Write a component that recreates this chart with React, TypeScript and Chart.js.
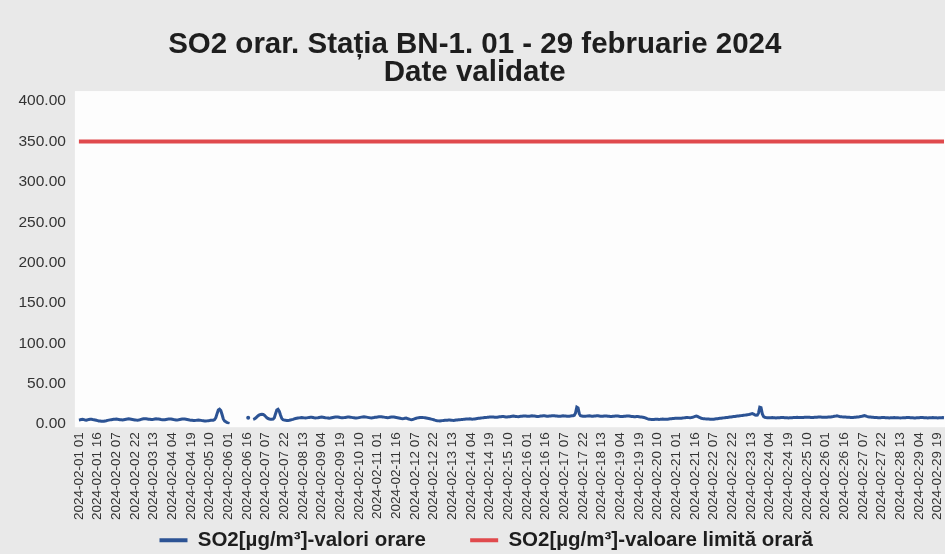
import React, { useEffect, useRef } from 'react';
import { Chart, registerables } from 'chart.js';

Chart.register(...registerables);

const FONT = "'Liberation Sans', Arial, Helvetica, sans-serif";

const TITLE_LINES = ['SO2 orar. Stația BN-1. 01 - 29 februarie 2024', 'Date validate'];
const SERIES_LABELS = ['SO2[µg/m³]-valori orare', 'SO2[µg/m³]-valoare limită orară'];
const YEAR_MONTH = '2024-02';
const DAY_NUMBERS = [1, 2, 3, 4, 5, 6, 7, 8, 9, 10, 11, 12, 13, 14, 15, 16, 17, 18, 19, 20, 21, 22, 23, 24, 25, 26, 27, 28, 29];
const HOUR_NUMBERS = [1, 2, 3, 4, 5, 6, 7, 8, 9, 10, 11, 12, 13, 14, 15, 16, 17, 18, 19, 20, 21, 22, 23, 24];
const TICK_EVERY_HOURS = 15;
const Y_MIN = 0;
const Y_MAX = 400;
const Y_STEP = 50;
const LIMIT_VALUE = 350;

// hourly SO2 values, one array per day (hours 01..24)
const so2Feb01 = [5.3, 5.5, 5.8, 6.0, 5.6, 5.2, 5.0, 5.4, 5.9, 6.2, 6.0, 5.7, 5.5, 5.2, 4.8, 4.4, 4.0, 3.8, 3.6, 3.5, 3.7, 4.0, 4.3, 4.7];
const so2Feb02 = [5.0, 5.3, 5.6, 5.8, 6.0, 6.2, 6.3, 6.1, 5.9, 5.6, 5.4, 5.2, 5.5, 5.8, 6.1, 6.4, 6.6, 6.5, 6.2, 5.9, 5.6, 5.3, 5.1, 5.0];
const so2Feb03 = [5.2, 5.5, 5.9, 6.3, 6.6, 6.8, 6.7, 6.5, 6.2, 6.0, 5.8, 5.9, 6.1, 6.4, 6.6, 6.5, 6.3, 6.0, 5.7, 5.5, 5.4, 5.6, 5.9, 6.2];
const so2Feb04 = [6.4, 6.5, 6.3, 6.0, 5.7, 5.5, 5.3, 5.2, 5.4, 5.7, 6.0, 6.3, 6.5, 6.4, 6.1, 5.8, 5.5, 5.2, 5.0, 4.8, 4.6, 4.5, 4.7, 5.0];
const so2Feb05 = [5.2, 5.0, 4.7, 4.4, 4.2, 4.0, 3.9, 4.1, 4.3, 4.5, 4.8, 5.0, 5.0, 5.6, 8.0, 13.0, 17.5, 18.5, 17.0, 12.0, 6.5, 4.0, 3.0, 2.0];
const so2Feb06 = [1.2, 0.8, null, null, null, null, null, null, null, null, null, null, null, null, null, null, 8.0, null, null, null, 6.0, 6.5, 7.5, 9.0];
const so2Feb07 = [10.5, 11.5, 12.0, 12.2, 12.0, 11.0, 9.5, 8.0, 7.0, 6.5, 6.2, 6.0, 6.2, 8.0, 13.0, 17.5, 18.5, 16.0, 11.0, 7.0, 5.5, 5.0, 4.8, 4.6];
const so2Feb08 = [4.6, 4.8, 5.2, 5.6, 6.0, 6.5, 7.0, 7.3, 7.6, 7.8, 8.0, 8.2, 8.0, 7.8, 7.6, 7.8, 8.1, 8.4, 8.6, 8.5, 8.2, 7.9, 7.7, 7.8];
const so2Feb09 = [8.0, 8.3, 8.6, 8.8, 8.6, 8.3, 8.0, 7.8, 7.6, 7.5, 7.7, 8.0, 8.3, 8.6, 8.9, 9.0, 8.8, 8.5, 8.2, 8.0, 7.9, 8.1, 8.4, 8.6];
const so2Feb10 = [8.8, 8.9, 8.7, 8.4, 8.1, 7.9, 7.7, 7.6, 7.8, 8.1, 8.4, 8.7, 9.0, 9.2, 9.0, 8.7, 8.4, 8.1, 7.9, 7.8, 8.0, 8.2, 8.5, 8.7];
const so2Feb11 = [8.9, 9.1, 9.3, 9.2, 9.0, 8.7, 8.4, 8.2, 8.0, 8.2, 8.5, 8.8, 9.0, 8.8, 8.5, 8.2, 7.9, 7.6, 7.3, 7.0, 6.8, 7.0, 7.3, 7.6];
const so2Feb12 = [7.0, 6.4, 5.9, 5.6, 5.8, 6.3, 6.9, 7.4, 7.8, 8.0, 8.2, 8.4, 8.3, 8.1, 7.9, 7.6, 7.3, 7.0, 6.7, 6.3, 5.9, 5.5, 5.0, 4.6];
const so2Feb13 = [4.3, 4.1, 4.0, 4.2, 4.4, 4.6, 4.8, 4.9, 5.0, 5.1, 5.2, 5.0, 4.8, 4.7, 4.9, 5.1, 5.3, 5.5, 5.6, 5.7, 5.9, 6.0, 6.2, 6.3];
const so2Feb14 = [6.4, 6.5, 6.6, 6.4, 6.2, 6.3, 6.5, 6.8, 7.0, 7.2, 7.4, 7.6, 7.8, 8.0, 8.2, 8.4, 8.5, 8.7, 8.8, 8.9, 9.0, 8.8, 8.6, 8.5];
const so2Feb15 = [8.7, 8.9, 9.1, 9.3, 9.5, 9.4, 9.2, 9.0, 8.9, 9.1, 9.3, 9.6, 9.8, 10.0, 9.8, 9.6, 9.4, 9.3, 9.5, 9.7, 9.9, 10.1, 10.2, 10.0];
const so2Feb16 = [9.8, 9.7, 9.9, 10.1, 10.3, 10.2, 10.0, 9.8, 9.6, 9.5, 9.7, 10.0, 10.2, 10.4, 10.3, 10.1, 9.9, 9.8, 10.0, 10.2, 10.4, 10.5, 10.3, 10.1];
const so2Feb17 = [10.0, 9.8, 9.7, 9.9, 10.1, 10.3, 10.2, 10.0, 9.8, 9.7, 9.9, 10.1, 10.3, 10.5, 11.0, 14.0, 21.0, 20.0, 13.0, 10.5, 10.0, 9.8, 9.7, 9.9];
const so2Feb18 = [10.0, 10.2, 10.3, 10.1, 9.9, 9.8, 10.0, 10.2, 10.4, 10.3, 10.1, 9.9, 9.7, 9.8, 10.0, 10.2, 10.1, 9.9, 9.8, 9.6, 9.5, 9.7, 9.9, 10.0];
const so2Feb19 = [10.1, 10.0, 9.8, 9.6, 9.4, 9.5, 9.7, 9.9, 10.1, 10.2, 10.0, 9.8, 9.6, 9.4, 9.2, 9.3, 9.5, 9.4, 9.2, 9.0, 8.8, 8.6, 8.3, 7.9];
const so2Feb20 = [7.2, 6.6, 6.2, 6.0, 5.9, 5.8, 5.9, 6.0, 6.1, 6.0, 5.9, 6.0, 6.2, 6.3, 6.2, 6.1, 6.0, 6.2, 6.4, 6.6, 6.8, 7.0, 7.1, 7.2];
const so2Feb21 = [7.3, 7.4, 7.3, 7.2, 7.4, 7.6, 7.8, 8.0, 8.2, 8.3, 8.1, 7.9, 8.1, 8.5, 9.0, 9.6, 10.0, 9.6, 8.8, 8.0, 7.4, 7.0, 6.8, 6.6];
const so2Feb22 = [6.5, 6.4, 6.3, 6.2, 6.1, 6.0, 6.2, 6.4, 6.6, 6.8, 7.0, 7.2, 7.4, 7.6, 7.8, 8.0, 8.2, 8.4, 8.6, 8.8, 9.0, 9.2, 9.4, 9.6];
const so2Feb23 = [9.8, 10.0, 10.2, 10.4, 10.6, 10.8, 11.0, 11.2, 11.4, 11.6, 11.8, 12.2, 12.8, 13.2, 12.6, 11.6, 11.0, 11.2, 14.0, 21.0, 20.5, 13.0, 9.5, 8.5];
const so2Feb24 = [8.2, 8.0, 7.9, 8.0, 8.1, 8.2, 8.0, 7.9, 7.8, 7.9, 8.0, 8.1, 8.2, 8.3, 8.2, 8.1, 8.0, 7.9, 7.8, 7.9, 8.0, 8.1, 8.2, 8.3];
const so2Feb25 = [8.4, 8.5, 8.4, 8.3, 8.2, 8.3, 8.4, 8.5, 8.6, 8.7, 8.6, 8.5, 8.4, 8.3, 8.4, 8.5, 8.6, 8.7, 8.8, 8.9, 8.8, 8.7, 8.6, 8.5];
const so2Feb26 = [8.6, 8.7, 8.8, 8.9, 9.0, 9.2, 9.4, 9.7, 10.0, 10.3, 10.0, 9.6, 9.3, 9.1, 9.0, 8.9, 8.8, 8.7, 8.6, 8.5, 8.4, 8.3, 8.4, 8.5];
const so2Feb27 = [8.6, 8.8, 9.0, 9.2, 9.5, 9.8, 10.2, 10.6, 10.2, 9.7, 9.3, 9.0, 8.8, 8.6, 8.5, 8.4, 8.3, 8.2, 8.1, 8.0, 8.1, 8.2, 8.3, 8.2];
const so2Feb28 = [8.1, 8.0, 7.9, 7.8, 7.9, 8.0, 8.1, 8.2, 8.1, 8.0, 7.9, 7.8, 7.7, 7.8, 7.9, 8.0, 8.1, 8.2, 8.3, 8.2, 8.1, 8.0, 7.9, 7.8];
const so2Feb29 = [7.8, 7.9, 8.0, 8.1, 8.2, 8.3, 8.2, 8.1, 8.0, 7.9, 7.8, 7.9, 8.0, 8.1, 8.2, 8.1, 8.0, 7.9, 7.8, 7.9, 8.0, 8.1, 8.2, 8.1];

const so2Hourly: (number | null)[] = [
  ...so2Feb01, ...so2Feb02, ...so2Feb03, ...so2Feb04, ...so2Feb05, ...so2Feb06, ...so2Feb07,
  ...so2Feb08, ...so2Feb09, ...so2Feb10, ...so2Feb11, ...so2Feb12, ...so2Feb13, ...so2Feb14,
  ...so2Feb15, ...so2Feb16, ...so2Feb17, ...so2Feb18, ...so2Feb19, ...so2Feb20, ...so2Feb21,
  ...so2Feb22, ...so2Feb23, ...so2Feb24, ...so2Feb25, ...so2Feb26, ...so2Feb27, ...so2Feb28,
  ...so2Feb29,
];

const pad2 = (n: number) => (n < 10 ? '0' + n : String(n));
const hourLabels: string[] = [];
DAY_NUMBERS.forEach((d) => {
  HOUR_NUMBERS.forEach((h) => {
    hourLabels.push(`${YEAR_MONTH}-${pad2(d)} ${pad2(h)}`);
  });
});
const limitSeries = hourLabels.map(() => LIMIT_VALUE);

const BLUE = '#2c5394';
const RED = '#e04a4d';

const backgroundPlugin = {
  id: 'paperBackground',
  beforeDraw(chart: any) {
    const { ctx, width, height, chartArea: a } = chart;
    ctx.save();
    ctx.fillStyle = '#e9e9e9';
    ctx.fillRect(0, 0, width, height);
    ctx.fillStyle = '#fdfdfd';
    ctx.fillRect(a.left - 4, a.top - 10, a.right - a.left + 8, a.bottom - a.top + 13);
    ctx.restore();
  },
};

// nudges the bottom legend a little to the right, as in the reference
const legendShiftPlugin = {
  id: 'legendShift',
  afterLayout(chart: any) {
    if (chart.legend) {
      chart.legend.left += 23;
    }
  },
};

export default function App() {
  const canvasRef = useRef<HTMLCanvasElement | null>(null);

  useEffect(() => {
    if (!canvasRef.current) return;
    const chart = new Chart(canvasRef.current, {
      type: 'line',
      data: {
        labels: hourLabels,
        datasets: [
          {
            label: SERIES_LABELS[0],
            data: so2Hourly,
            borderColor: BLUE,
            backgroundColor: BLUE,
            borderWidth: 3,
            tension: 0,
            spanGaps: false,
            pointRadius: (ctx: any) => {
              const i = ctx.dataIndex;
              if (so2Hourly[i] == null) return 0;
              const prev = i > 0 ? so2Hourly[i - 1] : null;
              const next = i < so2Hourly.length - 1 ? so2Hourly[i + 1] : null;
              return prev == null && next == null ? 2 : 0;
            },
            pointBorderWidth: 0,
            pointBackgroundColor: BLUE,
            pointHoverRadius: 0,
          },
          {
            label: SERIES_LABELS[1],
            data: limitSeries,
            borderColor: RED,
            backgroundColor: RED,
            borderWidth: 4,
            tension: 0,
            pointRadius: 0,
            pointHoverRadius: 0,
          },
        ],
      },
      options: {
        animation: false,
        responsive: true,
        maintainAspectRatio: false,
        layout: { padding: { left: 5.5, right: 1, top: 0, bottom: 0 } },
        plugins: {
          title: {
            display: true,
            text: TITLE_LINES,
            color: '#1e1e1e',
            font: { family: FONT, size: 29.5, weight: 'bold', lineHeight: 0.95 },
            padding: { top: 31, bottom: 14 },
          },
          legend: {
            display: true,
            position: 'bottom',
            maxHeight: 34,
            labels: {
              color: '#1e1e1e',
              font: { family: FONT, size: 20.5, weight: 'bold' },
              boxWidth: 28,
              boxHeight: 4,
              padding: 10,
              generateLabels: (c: any) => {
                const items = Chart.defaults.plugins.legend.labels.generateLabels(c);
                return items.map((it: any, i: number) => ({
                  ...it,
                  lineWidth: 0,
                  fillStyle: c.data.datasets[i].borderColor,
                  text: i === 0 ? it.text + '      ' : it.text,
                }));
              },
            },
          },
          tooltip: { enabled: false },
        },
        scales: {
          x: {
            type: 'category',
            grid: { display: false, drawTicks: false },
            border: { display: false },
            afterBuildTicks: (axis: any) => {
              axis.ticks = axis.ticks.filter((t: any) => t.value % TICK_EVERY_HOURS === 0);
            },
            afterFit: (axis: any) => {
              axis.paddingRight = 0;
              axis.paddingLeft = 0;
              axis.height = axis.height - 8;
            },
            ticks: {
              autoSkip: false,
              maxRotation: 90,
              minRotation: 90,
              padding: 8,
              color: '#333333',
              font: { family: FONT, size: 13.5 },
            },
          },
          y: {
            min: Y_MIN,
            max: Y_MAX,
            grid: { display: false, drawTicks: false },
            border: { display: false },
            ticks: {
              stepSize: Y_STEP,
              padding: 13,
              color: '#333333',
              font: { family: FONT, size: 15.5 },
              callback: (v: any) => Number(v).toFixed(2),
            },
          },
        },
      },
      plugins: [backgroundPlugin, legendShiftPlugin],
    } as any);
    return () => chart.destroy();
  }, []);

  return (
    <div style={{ position: 'fixed', left: 0, top: 0, width: 945, height: 554 }}>
      <canvas ref={canvasRef} />
    </div>
  );
}
